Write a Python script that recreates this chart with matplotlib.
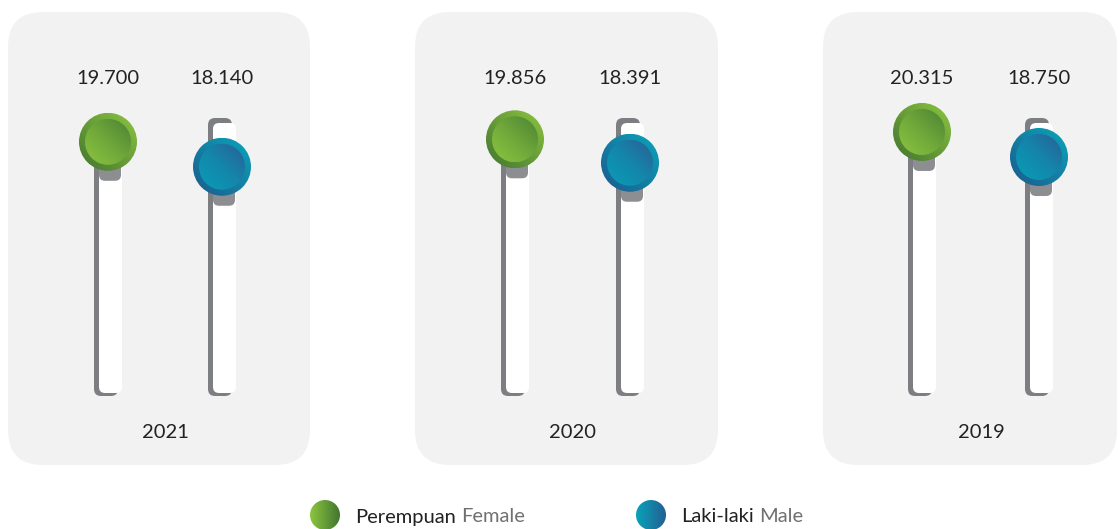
import matplotlib.pyplot as plt
import numpy as np
from matplotlib.patches import FancyBboxPatch, Circle
from matplotlib.colors import LinearSegmentedColormap

plt.rcParams['font.family'] = ['Lato', 'DejaVu Sans']

years = ['2021', '2020', '2019']
female = [19.700, 19.856, 20.315]
male = [18.140, 18.391, 18.750]
female_labels = ['19.700', '19.856', '20.315']
male_labels = ['18.140', '18.391', '18.750']

W, H = 1118, 529
fig = plt.figure(figsize=(W / 100, H / 100), dpi=100)
ax = fig.add_axes([0, 0, 1, 1])
ax.set_xlim(0, W)
ax.set_ylim(H, 0)
ax.axis('off')

# value axis used to place the knobs (value scale laid over the pixel canvas)
axv = ax.twinx()
axv.set_ylim(-4.5, 28.5625)
axv.axis('off')


def val_to_px(x, v):
    d = axv.transData.transform((x, v))
    return ax.transData.inverted().transform(d)


green_ring = LinearSegmentedColormap.from_list('gr', ['#437530', '#8cc53f'])
green_core = LinearSegmentedColormap.from_list('gc', ['#4b8236', '#6fa83a', '#8dc540'])
blue_ring = LinearSegmentedColormap.from_list('br', ['#1d5a8d', '#0aa5ba'])
blue_core = LinearSegmentedColormap.from_list('bc', ['#2a5f96', '#1487ab', '#089db6'])


def gradient_disc(cx, cy, r, cmap, reverse=False, z=5, horizontal=False):
    n = 80
    xs = np.linspace(-1, 1, n)
    gx, gy = np.meshgrid(xs, xs)
    if horizontal:
        t = gx
    else:
        t = gx - gy  # gy grows downward (origin upper): high t = upper right
    if reverse:
        t = -t
    im = ax.imshow(t, cmap=cmap, origin='upper',
                   extent=(cx - r, cx + r, cy + r, cy - r), zorder=z,
                   interpolation='bilinear')
    clip = Circle((cx, cy), r, transform=ax.transData)
    im.set_clip_path(clip)
    ax.set_xlim(0, W)
    ax.set_ylim(H, 0)


def knob(cx, cy, ring, core):
    # shadow under knob
    ax.add_patch(FancyBboxPatch((cx - 9, cy), 22, 29 + 10,
                                boxstyle='round,pad=0,rounding_size=6',
                                fc='#8d8e92', ec='none', zorder=3))
    gradient_disc(cx, cy, 29, ring, reverse=False, z=5)
    gradient_disc(cx, cy, 23, core, reverse=True, z=6)


def track(cx):
    ax.add_patch(FancyBboxPatch((cx - 14, 118), 24, 278,
                                boxstyle='round,pad=0,rounding_size=7',
                                fc='#7d7e82', ec='none', zorder=2))
    ax.add_patch(FancyBboxPatch((cx - 9, 123), 23, 270,
                                boxstyle='round,pad=0,rounding_size=6',
                                fc='white', ec='none', zorder=2.5))


panel_x = [8, 415, 823]
panel_w = [302, 303, 294]
fem_x = [108, 515, 922]
male_x = [222, 630, 1039]
year_x = [165, 573, 981]

for i in range(3):
    ax.add_patch(FancyBboxPatch((panel_x[i], 12), panel_w[i], 453,
                                boxstyle='round,pad=0,rounding_size=35',
                                fc='#f2f2f2', ec='none', zorder=1))
    for xc, v, lab, ring, core in [(fem_x[i], female[i], female_labels[i], green_ring, green_core),
                                   (male_x[i], male[i], male_labels[i], blue_ring, blue_core)]:
        track(xc)
        px, py = val_to_px(xc, v)
        knob(px, py, ring, core)
        ax.text(xc, 79, lab, ha='center', va='center', fontsize=14.5,
                color='#222222', zorder=7)
    ax.text(year_x[i], 433, years[i], ha='center', va='center', fontsize=14.5,
            color='#222222', zorder=7)

# legend
leg = [(325, 'Perempuan', 'Female', LinearSegmentedColormap.from_list('lg', ['#8cc53f', '#437530'])),
       (651, 'Laki-laki', 'Male', LinearSegmentedColormap.from_list('lb', ['#08a3b8', '#235f93']))]
for lx, t1, t2, cm in leg:
    gradient_disc(lx, 515, 15, cm, horizontal=True, z=5)
    a = ax.text(lx + 30, 517, t1, ha='left', va='center', fontsize=14.5,
                color='#222222')
    ax.annotate(t2, xy=(1, 0), xycoords=a, xytext=(4, 0),
                textcoords='offset points', ha='left', va='bottom',
                fontsize=14.5, color='#707070')

fig.savefig('out.png', dpi=100)
